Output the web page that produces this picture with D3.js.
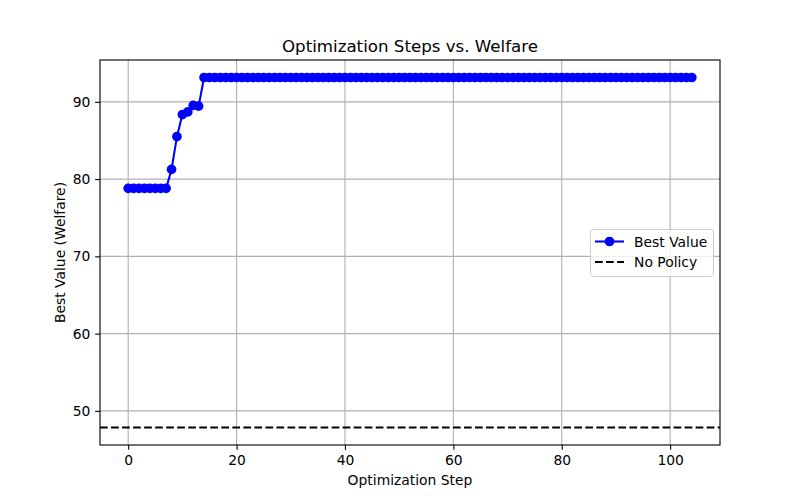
<!DOCTYPE html>
<html><head><meta charset="utf-8">
<script src="https://cdn.jsdelivr.net/npm/d3@7"></script>
<style>body{margin:0;background:#fff}svg{display:block;font-family:"DejaVu Sans",sans-serif}</style>
</head><body><svg id="c" width="800" height="500"></svg>
<script>
const steps = d3.range(0, 105);
const earlyValues = [78.8,78.8,78.8,78.8,78.8,78.8,78.8,78.8,81.25,85.5,88.35,88.7,89.55,89.45];
const plateauValue = 93.15;
const bestValues = steps.map(i => i < earlyValues.length ? earlyValues[i] : plateauValue);
const noPolicy = 47.85;
const xTicks = [0,20,40,60,80,100];
const yTicks = [50,60,70,80,90];
const title = "Optimization Steps vs. Welfare";
const xLabel = "Optimization Step";
const yLabel = "Best Value (Welfare)";
const legendLabels = ["Best Value","No Policy"];

const svg = d3.select("#c");
const L=100,R=720,T=60,B=445;
const FS=13.89, LW=2.08, DASH="7.7,3.33", MR=4.85;
const xmin=-5.2,xmax=109.2;
const yAll = bestValues.concat([noPolicy]);
const ylo=d3.min(yAll), yhi=d3.max(yAll), pad=(yhi-ylo)*0.05;
const x=d3.scaleLinear().domain([xmin,xmax]).range([L,R]);
const y=d3.scaleLinear().domain([ylo-pad,yhi+pad]).range([B,T]);

// grid
const g=svg.append("g");
g.selectAll(".gx").data(xTicks).join("line").attr("x1",d=>x(d)).attr("x2",d=>x(d)).attr("y1",T).attr("y2",B).attr("stroke","#b0b0b0").attr("stroke-width",1.11);
g.selectAll(".gy").data(yTicks).join("line").attr("y1",d=>y(d)).attr("y2",d=>y(d)).attr("x1",L).attr("x2",R).attr("stroke","#b0b0b0").attr("stroke-width",1.11);

// no policy
svg.append("line").attr("x1",L).attr("x2",R).attr("y1",y(noPolicy)).attr("y2",y(noPolicy)).attr("stroke","#000").attr("stroke-width",LW).attr("stroke-dasharray",DASH);

// line & markers
const data=steps.map((s,i)=>[s,bestValues[i]]);
svg.append("clipPath").attr("id","cp").append("rect").attr("x",L).attr("y",T).attr("width",R-L).attr("height",B-T);
const pg=svg.append("g").attr("clip-path","url(#cp)");
pg.append("path").datum(data).attr("d",d3.line().x(d=>x(d[0])).y(d=>y(d[1]))).attr("fill","none").attr("stroke","#0000ff").attr("stroke-width",LW);
pg.selectAll("circle").data(data).join("circle").attr("cx",d=>x(d[0])).attr("cy",d=>y(d[1])).attr("r",MR).attr("fill","#0000ff");

// axes
const xa=svg.append("g").attr("transform",`translate(0,${B})`).call(d3.axisBottom(x).tickValues(xTicks).tickSize(4.86).tickPadding(4.86).tickFormat(d3.format("d")));
const ya=svg.append("g").attr("transform",`translate(${L},0)`).call(d3.axisLeft(y).tickValues(yTicks).tickSize(4.86).tickPadding(4.86).tickFormat(d3.format("d")));
[xa,ya].forEach(a=>{a.select(".domain").remove();a.selectAll("text").attr("font-size",FS).attr("fill","#000").attr("font-family","DejaVu Sans");a.selectAll(".tick line").attr("stroke","#000").attr("stroke-width",1.11);});

svg.append("rect").attr("x",L).attr("y",T).attr("width",R-L).attr("height",B-T).attr("fill","none").attr("stroke","#000").attr("stroke-width",1.11);

// labels
svg.append("text").attr("x",(L+R)/2).attr("y",52).attr("text-anchor","middle").attr("font-size",16.67).text(title);
svg.append("text").attr("x",(L+R)/2).attr("y",485).attr("text-anchor","middle").attr("font-size",FS).text(xLabel);
svg.append("text").attr("transform",`translate(64.5,${(T+B)/2}) rotate(-90)`).attr("text-anchor","middle").attr("font-size",FS).text(yLabel);

// legend
const lg=svg.append("g");
lg.append("rect").attr("x",590.5).attr("y",229.5).attr("width",123).attr("height",47).attr("rx",3).attr("fill","#fff").attr("fill-opacity",0.8).attr("stroke","#cccccc").attr("stroke-width",1);
lg.append("line").attr("x1",595).attr("x2",624).attr("y1",241.5).attr("y2",241.5).attr("stroke","#0000ff").attr("stroke-width",LW);
lg.append("circle").attr("cx",609.5).attr("cy",241.5).attr("r",MR).attr("fill","#0000ff");
lg.append("line").attr("x1",595).attr("x2",624).attr("y1",262).attr("y2",262).attr("stroke","#000").attr("stroke-width",LW).attr("stroke-dasharray",DASH);
lg.selectAll("text.l").data(legendLabels).join("text").attr("x",634).attr("y",(d,i)=>246.5+i*20.5).attr("font-size",FS).text(d=>d);
</script></body></html>
